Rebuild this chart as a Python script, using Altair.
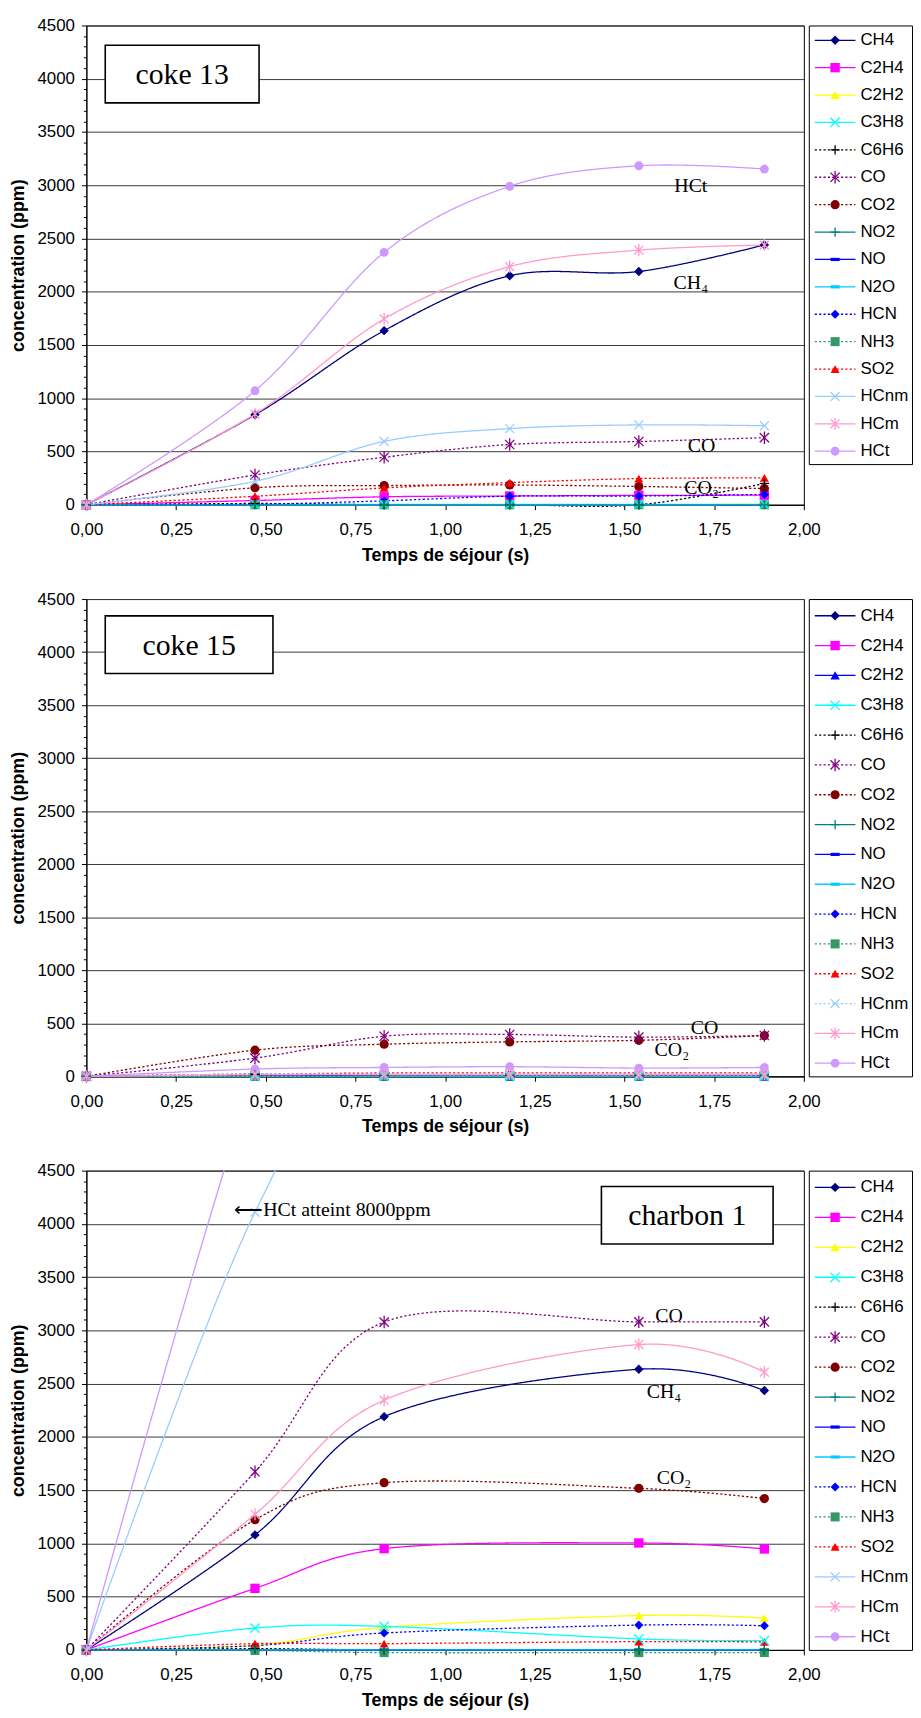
import altair as alt
import pandas as pd

SERIES = ["CH4", "C2H4", "C2H2", "C3H8", "C6H6", "CO", "CO2", "NO2", "NO", "N2O",
          "HCN", "NH3", "SO2", "HCnm", "HCm", "HCt"]

# residence times (s)
T_COKE = [0.0, 0.47, 0.83, 1.18, 1.54, 1.89]
T_CHARBON = [0.0, 0.47, 0.83, 1.54, 1.89]

# ---- coke 13 (ppm) ----
c13_CH4 = [0, 845, 1635, 2150, 2190, 2440]
c13_C2H4 = [0, 40, 75, 82, 88, 90]
c13_C2H2 = [0, 0, 0, 0, 0, 5]
c13_C3H8 = [0, 3, 3, 3, 3, 3]
c13_C6H6 = [0, 12, 0, 0, 0, 200]
c13_CO = [0, 280, 446, 566, 594, 630]
c13_CO2 = [0, 160, 180, 186, 172, 152]
c13_NO2 = [0, 0, 0, 0, 0, 0]
c13_NO = [0, 0, 0, 0, 0, 0]
c13_N2O = [0, 0, 0, 0, 0, 0]
c13_HCN = [0, 5, 37, 81, 82, 97]
c13_NH3 = [0, 0, 0, 0, 0, 0]
c13_SO2 = [0, 80, 158, 208, 246, 252]
c13_HCnm = [0, 220, 595, 715, 750, 742]
c13_HCm = [0, 852, 1745, 2236, 2391, 2438]
c13_HCt = [0, 1070, 2370, 2990, 3183, 3152]

# ---- coke 15 (ppm) ----
c15_CH4 = [0, 2, 2, 2, 2, 2]
c15_C2H4 = [0, 5, 5, 5, 5, 5]
c15_C2H2 = [0, 0, 0, 0, 0, 0]
c15_C3H8 = [0, 0, 0, 0, 0, 0]
c15_C6H6 = [0, 20, 0, 0, 0, 0]
c15_CO = [0, 172, 378, 395, 370, 385]
c15_CO2 = [0, 247, 303, 325, 340, 384]
c15_NO2 = [0, 0, 0, 0, 0, 0]
c15_NO = [0, 0, 0, 0, 0, 0]
c15_N2O = [0, 0, 0, 0, 0, 0]
c15_HCN = [0, 8, 10, 10, 10, 10]
c15_NH3 = [0, 0, 3, 8, 3, 8]
c15_SO2 = [0, 20, 32, 33, 32, 32]
c15_HCnm = [0, 22, 15, 15, 12, 12]
c15_HCm = [0, 15, 20, 22, 20, 20]
c15_HCt = [0, 69, 84, 91, 78, 84]

# ---- charbon 1 (ppm) ----
ch1_CH4 = [0, 1080, 2190, 2635, 2435]
ch1_C2H4 = [0, 578, 951, 1004, 948]
ch1_C2H2 = [0, 44, 211, 323, 298]
ch1_C3H8 = [0, 205, 221, 103, 87]
ch1_C6H6 = [0, 12, 0, 0, 0]
ch1_CO = [0, 1673, 3078, 3080, 3080]
ch1_CO2 = [0, 1222, 1570, 1517, 1421]
ch1_NO2 = [0, 0, 0, 0, 0]
ch1_NO = [0, 0, 0, 0, 0]
ch1_N2O = [0, 0, 0, 0, 0]
ch1_HCN = [0, 40, 159, 233, 227]
ch1_NH3 = [0, -5, -25, -25, -25]
ch1_SO2 = [0, 59, 59, 78, 75]
ch1_HCnm = [0, 4110, 5660, 5300, 5000]
ch1_HCm = [0, 1273, 2345, 2867, 2608]
ch1_HCt = [0, 5400, 8000, 8170, 7600]

# annotations (text, residence time, concentration)
ANN13_TEXT = ["HCt", "CH\u2084", "CO", "CO\u2082"]
ANN13_T = [1.685, 1.685, 1.715, 1.715]
ANN13_C = [2990, 2080, 550, 160]

ANN15_TEXT = ["CO", "CO\u2082"]
ANN15_T = [1.723, 1.632]
ANN15_C = [455, 245]

ANN1_TEXT = ["CO", "CH\u2084", "CO\u2082"]
ANN1_T = [1.624, 1.61, 1.638]
ANN1_C = [3130, 2420, 1617]

NOTE1_TEXT = ["\u27F5HCt atteint 8000ppm"]
NOTE1_T = [0.412]
NOTE1_C = [4130]

X_TICKS = [0, 0.25, 0.5, 0.75, 1.0, 1.25, 1.5, 1.75, 2.0]
Y_TICKS = list(range(0, 4501, 100))

# ---------------- styles ----------------
COLOR = {"CH4": "#000080", "C2H4": "#FF00FF", "C2H2": "#FFFF00", "C3H8": "#00FFFF",
         "C6H6": "#000000", "CO": "#800080", "CO2": "#800000", "NO2": "#008080",
         "NO": "#0000FF", "N2O": "#00CCFF", "HCN": "#0000FF", "NH3": "#339966",
         "SO2": "#FF0000", "HCnm": "#99CCFF", "HCm": "#FF99CC", "HCt": "#CC99FF"}
DOTTED = {"C6H6", "CO", "CO2", "HCN", "NH3", "SO2"}
XPATH = "M-1,-1L1,1M-1,1L1,-1"
PLUS = "M-1,0L1,0M0,-1L0,1"
AST = "M-1,-1L1,1M-1,1L1,-1M0,-1.35L0,1.35"
DASH = "M-1,-0.35L1,-0.35L1,0.35L-1,0.35Z"
SHAPE = {"CH4": "diamond", "C2H4": "square", "C2H2": "triangle-up", "C3H8": XPATH,
         "C6H6": PLUS, "CO": AST, "CO2": "circle", "NO2": PLUS, "NO": DASH, "N2O": DASH,
         "HCN": "diamond", "NH3": "square", "SO2": "triangle-up", "HCnm": XPATH,
         "HCm": AST, "HCt": "circle"}
STROKED = {"C3H8", "C6H6", "CO", "NO2", "HCnm", "HCm"}
SIZE = {"CH4": 90, "C2H4": 80, "C2H2": 100, "C3H8": 100, "C6H6": 55, "CO": 100,
        "CO2": 85, "NO2": 55, "NO": 30, "N2O": 60, "HCN": 80, "NH3": 70, "SO2": 60,
        "HCnm": 100, "HCm": 100, "HCt": 110}

SANS = "Liberation Sans"
SERIF = "Liberation Serif"


def build_df(prefix_vals, ts, clip_series):
    rows = []
    for s in SERIES:
        for tv, cv in zip(ts, prefix_vals[s]):
            rows.append({"series": s, "t": tv, "c": cv,
                         "clip": 1 if s in clip_series else 0,
                         "stroked": 1 if s in STROKED else 0})
    return pd.DataFrame(rows)


def make_panel(vals, ts, color_over, dotted_extra, box_label, box, ann_text, ann_t,
               ann_c, note, clip_series, height, legend_height, legend_domain):
    colors = [color_over.get(s, COLOR[s]) for s in SERIES]
    dotted = DOTTED | set(dotted_extra)
    dashes = [[2.2, 2.2] if s in dotted else [1, 0] for s in SERIES]
    widths = [2.0 if s in dotted else (2.5 if s == "N2O" else 1.3) for s in SERIES]
    enc_color = alt.Color("series:N", scale=alt.Scale(domain=SERIES, range=colors), legend=None)
    enc_dash = alt.StrokeDash("series:N", scale=alt.Scale(domain=SERIES, range=dashes), legend=None)
    enc_sw = alt.StrokeWidth("series:N", scale=alt.Scale(domain=SERIES, range=widths), legend=None)
    enc_shape = alt.Shape("series:N", scale=alt.Scale(domain=SERIES, range=[SHAPE[s] for s in SERIES]), legend=None)
    enc_size = alt.Size("series:N", scale=alt.Scale(domain=SERIES, range=[SIZE[s] for s in SERIES]), legend=None)

    x_axis = alt.Axis(values=X_TICKS, labelExpr="replace(format(datum.value, '.2f'), '.', ',')",
                      title="Temps de séjour (s)", grid=False, tickSize=5, labelPadding=12,
                      titlePadding=9, labelFlush=False)
    y_axis = alt.Axis(values=Y_TICKS, labelExpr="datum.value % 500 === 0 ? format(datum.value, 'd') : ''",
                      labelOverlap=False, labelFlush=False, grid=True, gridColor="#3a3a3a", gridWidth=1,
                      gridOpacity={"condition": {"test": "datum.value % 500 === 0", "value": 1}, "value": 0},
                      tickSize={"condition": {"test": "datum.value % 500 === 0", "value": 5}, "value": 3},
                      labelPadding=7, titlePadding=10, title="concentration (ppm)")
    X = alt.X("t:Q", scale=alt.Scale(domain=[0, 2], nice=False, zero=False), axis=x_axis)
    Y = alt.Y("c:Q", scale=alt.Scale(domain=[0, 4500], nice=False, zero=False), axis=y_axis)

    df = build_df(vals, ts, clip_series)
    layers = []
    for clip in (0, 1):
        base = alt.Chart(df).transform_filter(f"datum.clip == {clip}")
        layers.append(base.mark_line(interpolate="cardinal", tension=0, clip=bool(clip)).encode(
            x=X, y=Y, color=enc_color, strokeDash=enc_dash, strokeWidth=enc_sw, detail="series:N"))
    for clip in (0, 1):
        base = alt.Chart(df).transform_filter(f"datum.clip == {clip}")
        layers.append(base.transform_filter("datum.stroked == 0").mark_point(
            filled=True, opacity=1, clip=bool(clip)).encode(
            x=X, y=Y, color=enc_color, shape=enc_shape, size=enc_size))
        layers.append(base.transform_filter("datum.stroked == 1").mark_point(
            filled=False, opacity=1, strokeWidth=1.3, clip=bool(clip)).encode(
            x=X, y=Y, color=enc_color, shape=enc_shape, size=enc_size))

    # label box
    bx0, bx1, by0, by1 = box
    box_df = pd.DataFrame({"label": [box_label]})
    layers.append(alt.Chart(box_df).mark_rect(fill="white", stroke="black", strokeWidth=1.6).encode(
        x=alt.value(bx0), x2=alt.value(bx1), y=alt.value(by0), y2=alt.value(by1)))
    layers.append(alt.Chart(box_df).mark_text(font=SERIF, fontSize=30, color="black",
                                              baseline="middle", align="center").encode(
        x=alt.value((bx0 + bx1) / 2), y=alt.value((by0 + by1) / 2 + 1), text="label:N"))

    ann_df = pd.DataFrame({"label": ann_text, "t": ann_t, "c": ann_c})
    layers.append(alt.Chart(ann_df).mark_text(font=SERIF, fontSize=20, color="black",
                                              baseline="middle", align="center").encode(
        x=X, y=Y, text="label:N"))
    if note is not None:
        note_df = pd.DataFrame({"label": note[0], "t": note[1], "c": note[2]})
        layers.append(alt.Chart(note_df).mark_text(font=SERIF, fontSize=20, color="black",
                                                   baseline="middle", align="left").encode(
            x=X, y=Y, text="label:N"))

    plot = alt.layer(*layers).properties(width=723, height=height)

    # legend
    leg = pd.DataFrame({"series": SERIES, "idx": list(range(len(SERIES))),
                        "stroked": [1 if s in STROKED else 0 for s in SERIES]})
    LY = alt.Y("idx:Q", scale=alt.Scale(domain=legend_domain, reverse=True, nice=False, zero=False), axis=None)
    lb = alt.Chart(leg)
    leg_layers = [
        lb.mark_rule().encode(x=alt.value(6), x2=alt.value(47), y=LY, color=enc_color,
                              strokeDash=enc_dash, strokeWidth=enc_sw),
        lb.transform_filter("datum.stroked == 0").mark_point(filled=True, opacity=1).encode(
            x=alt.value(26.5), y=LY, color=enc_color, shape=enc_shape, size=enc_size),
        lb.transform_filter("datum.stroked == 1").mark_point(filled=False, opacity=1, strokeWidth=1.3).encode(
            x=alt.value(26.5), y=LY, color=enc_color, shape=enc_shape, size=enc_size),
        lb.mark_text(align="left", baseline="middle", font=SANS, fontSize=17, color="black").encode(
            x=alt.value(52), y=LY, text="series:N"),
    ]
    legend = alt.layer(*leg_layers).properties(width=104, height=legend_height)
    return alt.hconcat(plot, legend, spacing=5, bounds="flush")


def pack(prefix_lists):
    return dict(zip(SERIES, prefix_lists))


coke13 = pack([c13_CH4, c13_C2H4, c13_C2H2, c13_C3H8, c13_C6H6, c13_CO, c13_CO2, c13_NO2,
               c13_NO, c13_N2O, c13_HCN, c13_NH3, c13_SO2, c13_HCnm, c13_HCm, c13_HCt])
coke15 = pack([c15_CH4, c15_C2H4, c15_C2H2, c15_C3H8, c15_C6H6, c15_CO, c15_CO2, c15_NO2,
               c15_NO, c15_N2O, c15_HCN, c15_NH3, c15_SO2, c15_HCnm, c15_HCm, c15_HCt])
charbon1 = pack([ch1_CH4, ch1_C2H4, ch1_C2H2, ch1_C3H8, ch1_C6H6, ch1_CO, ch1_CO2, ch1_NO2,
                 ch1_NO, ch1_N2O, ch1_HCN, ch1_NH3, ch1_SO2, ch1_HCnm, ch1_HCm, ch1_HCt])

p1 = make_panel(coke13, T_COKE, {}, [], "coke 13", (19, 174, 20, 78),
                ANN13_TEXT, ANN13_T, ANN13_C, None, [], 483, 442, [-0.54, 15.47])
p2 = make_panel(coke15, T_COKE, {"C2H2": "#0000FF"}, ["HCnm"], "coke 15", (19, 188, 17, 75),
                ANN15_TEXT, ANN15_T, ANN15_C, None, [], 481, 481, [-0.56, 15.44])
p3 = make_panel(charbon1, T_CHARBON, {}, [], "charbon 1", (519, 692, 16, 74),
                ANN1_TEXT, ANN1_T, ANN1_C, (NOTE1_TEXT, NOTE1_T, NOTE1_C), ["HCt", "HCnm"],
                483, 483, [-0.56, 15.44])

indep = dict(color="independent", strokeDash="independent", strokeWidth="independent",
             shape="independent", size="independent")

chart = alt.vconcat(p1, p2, p3, spacing=24).resolve_scale(**indep).properties(
    padding={"left": 0, "top": 1, "right": 0, "bottom": 2}
).configure_view(stroke="#000", strokeWidth=1).configure_axis(
    labelFont=SANS, labelFontSize=17, labelColor="#000", titleFont=SANS, titleFontSize=18,
    titleFontWeight="bold", titleColor="#000", tickColor="#000", domainColor="#000",
    domainWidth=1, tickWidth=1)

chart.save("out.html", embed_options={"renderer": "svg", "actions": False})
